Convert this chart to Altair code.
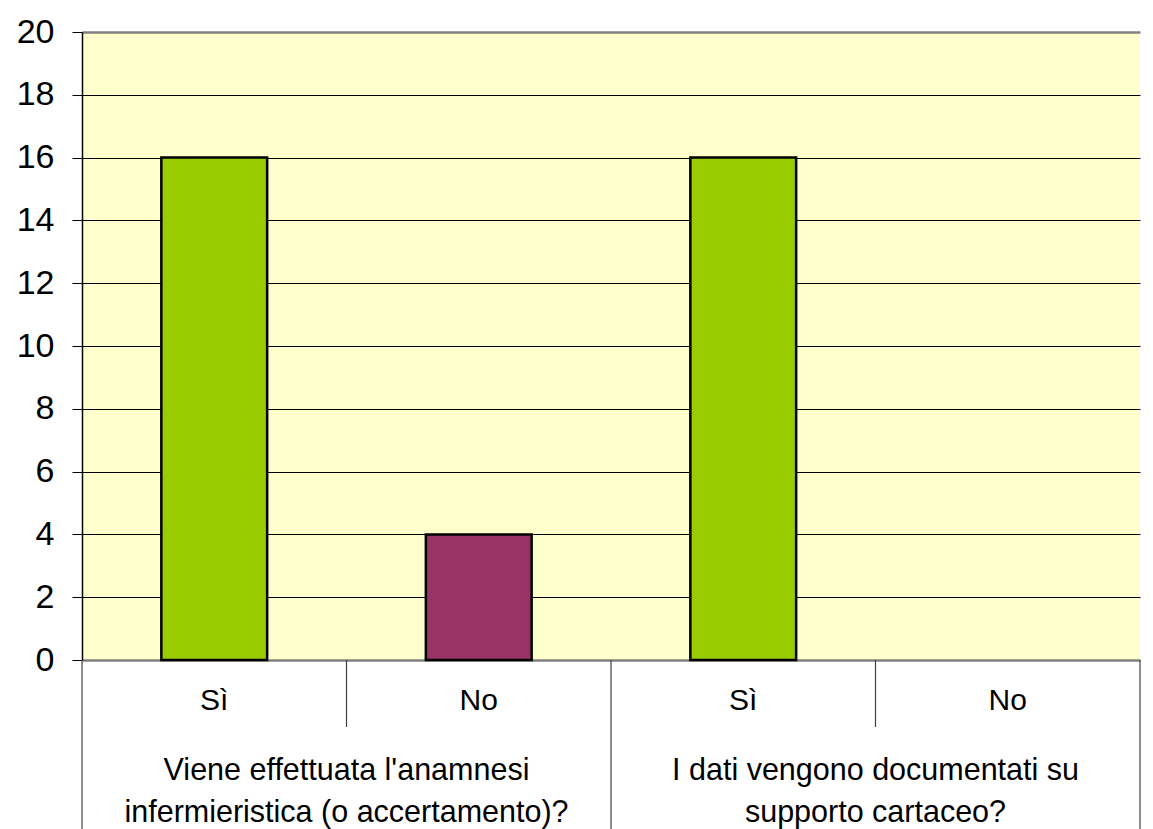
import altair as alt
import pandas as pd

questions = [
    "Viene effettuata l'anamnesi\ninfermieristica (o accertamento)?",
    "I dati vengono documentati su\nsupporto cartaceo?",
]
answers = ["Sì", "No"]
counts = [16, 4, 16, 0]
colors = ["#99CC00", "#993366"]
y_ticks = list(range(0, 21, 2))

rows = []
i = 0
for qi, q in enumerate(questions):
    for ai, a in enumerate(answers):
        rows.append({
            "key": f"q{qi+1}|{a}",
            "question": q,
            "answer": a,
            "count": counts[i],
            "first": ai == 0,
            "sep": "long" if ai == 0 else "short",
        })
        i += 1
df = pd.DataFrame(rows)
order = list(df["key"])

H = 628
xscale = alt.Scale(domain=order, paddingInner=0, paddingOuter=0)

base = alt.Chart(df)

bars = base.transform_filter("datum.count > 0").mark_bar(
    width={"band": 0.4}, stroke="black", strokeWidth=2.5
).encode(
    x=alt.X("key:N", scale=xscale, sort=order,
            axis=alt.Axis(title=None, labelExpr="split(datum.value, '|')[1]",
                          labelAngle=0, ticks=False, domain=False,
                          labelFontSize=30, labelFont="Liberation Sans",
                          labelColor="black", labelPadding=25)),
    y=alt.Y("count:Q", scale=alt.Scale(domain=[0, 20], nice=False),
            axis=alt.Axis(title=None, values=y_ticks, tickSize=10, tickColor="black",
                          domainColor="black", domainWidth=1.5,
                          labelFontSize=34, labelFont="Liberation Sans", labelColor="black",
                          labelPadding=18,
                          gridColor={"condition": {"test": "datum.value === 20 || datum.value === 0",
                                                   "value": "#808080"}, "value": "black"},
                          gridWidth={"condition": {"test": "datum.value === 20 || datum.value === 0",
                                                   "value": 2.5}, "value": 1},
                          gridOpacity=1)),
    color=alt.Color("answer:N", scale=alt.Scale(domain=answers, range=colors), legend=None),
)

short_rules = base.transform_filter("datum.sep === 'short'").mark_rule(
    color="#404040", strokeWidth=1.2
).encode(
    x=alt.X("key:N", scale=xscale, sort=order, bandPosition=0),
    y=alt.value(H),
    y2=alt.value(H + 67),
)

long_rules = base.transform_filter("datum.sep === 'long'").mark_rule(
    color="#404040", strokeWidth=1.2
).encode(
    x=alt.X("key:N", scale=xscale, sort=order, bandPosition=0),
    y=alt.value(H),
    y2=alt.value(H + 175),
)

end_rule = base.transform_filter(f"datum.key === '{order[-1]}'").mark_rule(
    color="#404040", strokeWidth=1.2
).encode(
    x=alt.X("key:N", scale=xscale, sort=order, bandPosition=1),
    y=alt.value(H),
    y2=alt.value(H + 175),
)

group_text = base.transform_filter("datum.first").mark_text(
    lineBreak="\n", fontSize=30.5, font="Liberation Sans", color="black",
    baseline="alphabetic", align="center", lineHeight=42
).encode(
    x=alt.X("key:N", scale=xscale, sort=order, bandPosition=1),
    y=alt.value(H + 120),
    text="question:N",
)

chart = alt.layer(bars, short_rules, long_rules, end_rule, group_text).properties(
    width=1058, height=H,
    autosize=alt.AutoSizeParams(type="none"),
    padding={"left": 74, "top": 24, "right": 5, "bottom": 175},
).configure(background="white").configure_view(fill="#FFFFCC", stroke=None)

chart.save("out.html", embed_options={"renderer": "svg", "actions": False})
